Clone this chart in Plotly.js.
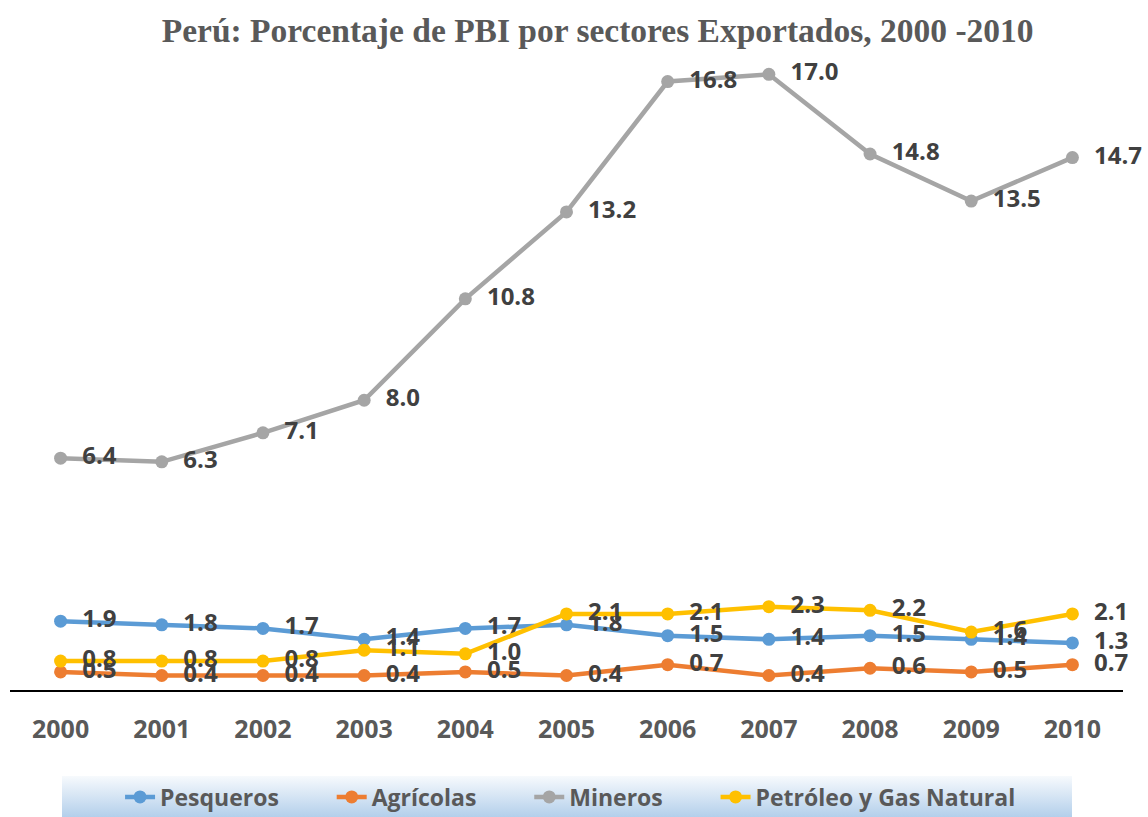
<!DOCTYPE html>
<html>
<head>
<meta charset="utf-8">
<script src="https://cdn.plot.ly/plotly-3.0.1.min.js"></script>
<style>html,body{margin:0;padding:0;background:#fff;}#chart{width:1148px;height:817px;}</style>
</head>
<body>
<div id="chart"></div>
<script>
const years = ["2000","2001","2002","2003","2004","2005","2006","2007","2008","2009","2010"];
const pesqueros = [1.9, 1.8, 1.7, 1.4, 1.7, 1.8, 1.5, 1.4, 1.5, 1.4, 1.3];
const agricolas = [0.5, 0.4, 0.4, 0.4, 0.5, 0.4, 0.7, 0.4, 0.6, 0.5, 0.7];
const mineros = [6.4, 6.3, 7.1, 8.0, 10.8, 13.2, 16.8, 17.0, 14.8, 13.5, 14.7];
const petroleo = [0.8, 0.8, 0.8, 1.1, 1.0, 2.1, 2.1, 2.3, 2.2, 1.6, 2.1];

const seriesNames = ["Pesqueros", "Agrícolas", "Mineros", "Petróleo y Gas Natural"];
const seriesData = [pesqueros, agricolas, mineros, petroleo];
const seriesColors = ["#5B9BD5", "#ED7D31", "#A5A5A5", "#FFC000"];
const pad = "\u00a0\u00a0\u00a0\u00a0\u00a0\u00a0\u00a0\u00a0";

const traces = seriesData.map((vals, i) => ({
  type: "scatter",
  mode: "lines+markers+text",
  name: i < seriesNames.length - 1 ? seriesNames[i] + pad : seriesNames[i],
  x: years,
  y: vals,
  text: vals.map(v => "\u00a0\u00a0" + v.toFixed(1)),
  textposition: "middle right",
  textfont: {family: "Open Sans", size: 24, color: "#404040", weight: 700},
  cliponaxis: false,
  line: {color: seriesColors[i], width: 4.5},
  marker: {color: seriesColors[i], size: 13},
  hoverinfo: "skip"
}));

const gradSvg = '<svg xmlns="http://www.w3.org/2000/svg" width="100" height="100" preserveAspectRatio="none">' +
  '<defs><linearGradient id="g" x1="0" y1="0" x2="0" y2="1">' +
  '<stop offset="0" stop-color="#f7fafd"/><stop offset="1" stop-color="#b3cfeb"/></linearGradient></defs>' +
  '<rect width="100" height="100" fill="url(#g)"/></svg>';
const gradUri = "data:image/svg+xml;base64," + btoa(gradSvg);

const layout = {
  width: 1148, height: 817,
  margin: {l: 10, r: 25, t: 58, b: 127},
  paper_bgcolor: "#ffffff",
  plot_bgcolor: "#ffffff",
  showlegend: true,
  title: {
    text: "<b>Perú: Porcentaje de PBI por sectores Exportados, 2000 -2010</b>",
    font: {family: "Liberation Serif", size: 33.5, color: "#595959"},
    x: 0.528, xanchor: "center", xref: "paper",
    y: 0.963, yanchor: "middle", yref: "container"
  },
  xaxis: {
    type: "category",
    range: [-0.5, 10.5],
    showgrid: false,
    zeroline: false,
    showline: true,
    linecolor: "#000000",
    linewidth: 2,
    ticks: "",
    ticklabelstandoff: 16,
    tickfont: {family: "Open Sans", size: 25, color: "#595959", weight: 700},
    fixedrange: true
  },
  yaxis: {
    range: [0, 17.45],
    visible: false,
    showgrid: false,
    zeroline: false,
    fixedrange: true
  },
  legend: {
    orientation: "h",
    xref: "container", yref: "container",
    x: 0.497, xanchor: "center",
    y: 0.0245, yanchor: "middle",
    bgcolor: "rgba(0,0,0,0)",
    font: {family: "Open Sans", size: 23, color: "#595959", weight: 700},
    tracegroupgap: 0
  },
  images: [{
    source: gradUri,
    xref: "paper", yref: "paper",
    x: 0.0467, y: -0.136,
    sizex: 0.9075, sizey: 0.065,
    xanchor: "left", yanchor: "top",
    sizing: "stretch",
    layer: "below"
  }]
};

Plotly.newPlot("chart", traces, layout, {displayModeBar: false, staticPlot: true});
</script>
</body>
</html>
